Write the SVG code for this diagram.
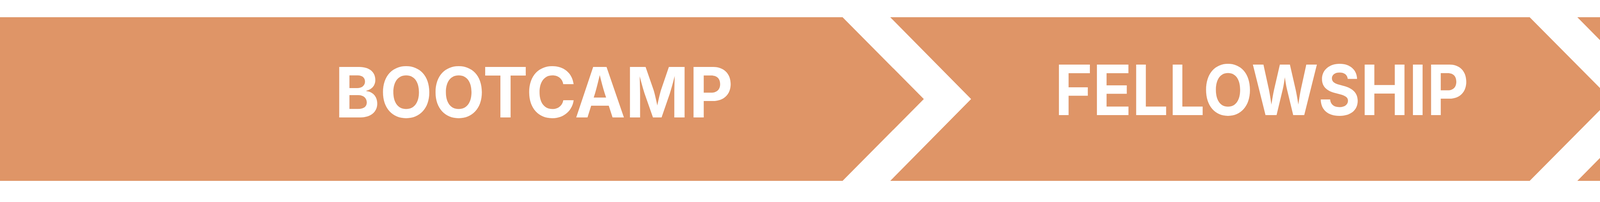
<svg xmlns="http://www.w3.org/2000/svg" width="8000" height="516" viewBox="0 0 8000 516">
  <style>
    .stage { fill: #DF9567; }
    .label { fill: #FFFFFF; font-family: Inter, "Open Sans", "Liberation Sans", sans-serif; font-weight: 700; font-size: 177px; text-anchor: middle; }
  </style>
  <rect x="0" y="0" width="8000" height="516" fill="#FFFFFF"/>
  <g id="node-bootcamp">
    <polygon class="stage" points="0,44 2157,44 2365,253 2157,462 0,462"/>
    <text class="label" x="1367" y="300" textLength="1020" lengthAdjust="spacingAndGlyphs">BOOTCAMP</text>
  </g>
  <g id="node-fellowship">
    <polygon class="stage" points="2279,44 3916,44 4124,253 3916,462 2279,462 2486,253"/>
    <text class="label" x="3230" y="294" textLength="1060" lengthAdjust="spacingAndGlyphs">FELLOWSHIP</text>
  </g>
  <g id="node-long-term-community-support">
    <polygon class="stage" points="4038,44 8000,44 8000,462 4038,462 4245,253"/>
    <text class="label" x="5979" y="294" textLength="3024" lengthAdjust="spacingAndGlyphs">LONG-TERM COMMUNITY SUPPORT</text>
  </g>
  <g id="connectors"/>
</svg>
